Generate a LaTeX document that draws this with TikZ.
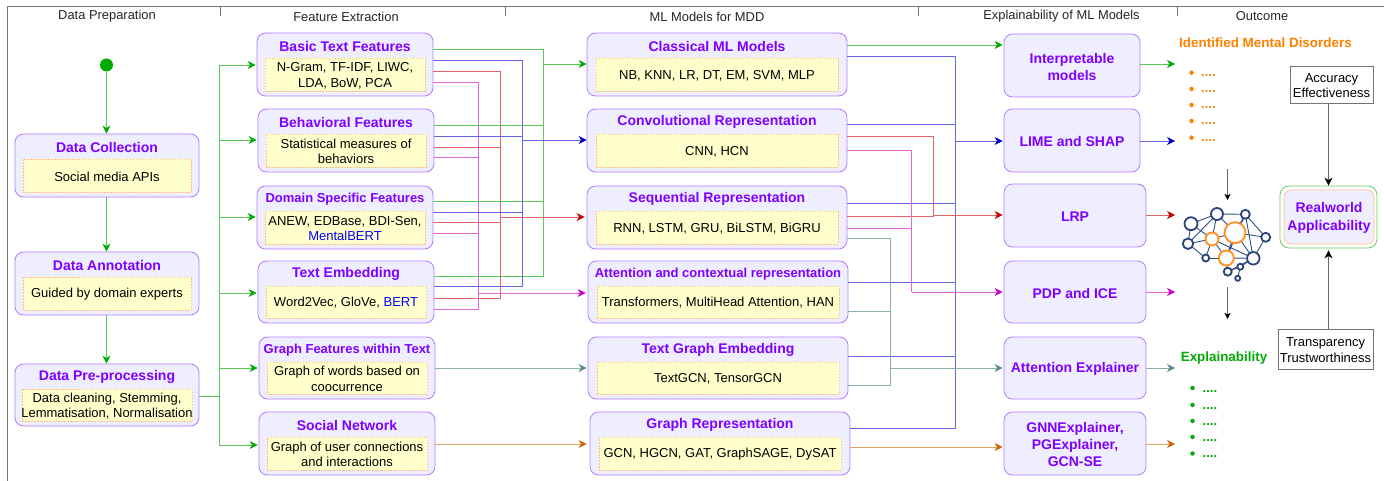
\documentclass[tikz,border=0pt]{standalone}
\usepackage{fontspec}
\setmainfont{Liberation Sans}
\usetikzlibrary{arrows.meta,calc}
\definecolor{ttl}{HTML}{7F00FF}
\definecolor{bxline}{HTML}{B57BFF}
\definecolor{bxfill}{HTML}{EEEEFF}
\definecolor{infill}{HTML}{FFFFCC}
\definecolor{inline}{HTML}{FFC080}
\definecolor{cg}{HTML}{00AA00}
\definecolor{cb}{HTML}{0000CC}
\definecolor{cr}{HTML}{CC0000}
\definecolor{cm}{HTML}{CC00CC}
\definecolor{ct}{HTML}{5B8F8A}
\definecolor{co}{HTML}{CC6600}
\definecolor{orng}{HTML}{FF8000}
\definecolor{netb}{HTML}{2A4478}
\definecolor{nete}{HTML}{2F4F80}
\definecolor{frm}{HTML}{777777}
\tikzset{
  outerbox/.style={draw=bxline,fill=bxfill,rounded corners=8.5pt,line width=0.8pt,inner sep=0pt},
  innerbox/.style={draw=inline,fill=infill,dash pattern=on 1.5pt off 1.5pt,line width=0.7pt,inner sep=0pt},
  bodynode/.style={inner sep=0pt,text=black,align=center,font=\bodyf},
  titlenode/.style={text=ttl,inner sep=0pt,align=center},
  etitle/.style={text=ttl,inner sep=0pt,align=center,font=\etitlef},
  headnode/.style={inner sep=0pt,font=\headf,text=black!85},
  conn/.style={line width=0.7pt},
  plain/.style={line width=0.7pt},
  gline/.style={draw=cg!65},
  bline/.style={draw=cb!60},
  rline/.style={draw=cr!60},
  mline/.style={draw=cm!60},
  tline/.style={draw=ct!70},
  oline/.style={draw=co!60},
  gtip/.style={conn,draw=cg!65,-{Stealth[length=8pt,width=8pt,inset=2.5pt,color=cg]}},
  btip/.style={conn,draw=cb!60,-{Stealth[length=8pt,width=8pt,inset=2.5pt,color=cb]}},
  rtip/.style={conn,draw=cr!60,-{Stealth[length=8pt,width=8pt,inset=2.5pt,color=cr]}},
  mtip/.style={conn,draw=cm!60,-{Stealth[length=8pt,width=8pt,inset=2.5pt,color=cm]}},
  ttip/.style={conn,draw=ct!70,-{Stealth[length=8pt,width=8pt,inset=2.5pt,color=ct]}},
  otip/.style={conn,draw=co!60,-{Stealth[length=8pt,width=8pt,inset=2.5pt,color=co]}},
  ktip/.style={line width=0.7pt,draw=black!60,-{Stealth[length=6pt,width=6pt,inset=1.5pt,color=black]}},
  kbig/.style={line width=0.8pt,draw=black!60,-{Stealth[length=8pt,width=8pt,inset=2.5pt,color=black]}},
  plainbox/.style={draw=black!55,fill=white,line width=0.8pt,inner sep=0pt},
  blt/.style={circle,inner sep=0pt,minimum size=4.5pt},
  netn/.style={circle,draw=netb,fill=white,line width=1.8pt,inner sep=0pt},
  neto/.style={circle,draw=orng!85,fill=white,line width=1.9pt,inner sep=0pt},
  netedge/.style={draw=nete,line width=0.9pt},
}
\newcommand{\bodyf}{\fontsize{13}{15.7}\selectfont}
\newcommand{\titlef}{\fontsize{14}{16}\selectfont\bfseries}
\newcommand{\etitlef}{\fontsize{14}{17}\selectfont\bfseries}
\newcommand{\smtitlef}{\fontsize{13}{15}\selectfont\bfseries}
\newcommand{\headf}{\fontsize{12.9}{15}\selectfont}
% name, x1,y1,x2,y2, inset, title font, title, body
\newcommand{\dbox}[9]{%
  \pgfmathsetmacro{\bw}{#4-#2}\pgfmathsetmacro{\bh}{#5-#3}%
  \pgfmathsetmacro{\bx}{(#4+#2)/2}\pgfmathsetmacro{\by}{(#5+#3)/2}%
  \pgfmathsetmacro{\iw}{#4-#2-2*#6}\pgfmathsetmacro{\ih}{#5-#3-30}%
  \pgfmathsetmacro{\iy}{(#5+#3+20)/2}\pgfmathsetmacro{\ty}{#3+13}%
  \pgfmathsetmacro{\tb}{\iy+1}%
  \node[outerbox,minimum width=\bw pt,minimum height=\bh pt] (#1) at (\bx,\by) {};
  \node[innerbox,minimum width=\iw pt,minimum height=\ih pt] (#1-i) at (\bx,\iy) {};
  \node[bodynode] (#1-b) at (\bx,\tb) {#9};
  \node[titlenode,font=#7] (#1-t) at (\bx,\ty) {#8};}
\newcommand{\ebox}[6]{%
  \pgfmathsetmacro{\bw}{#4-#2}\pgfmathsetmacro{\bh}{#5-#3}%
  \pgfmathsetmacro{\bx}{(#4+#2)/2}\pgfmathsetmacro{\by}{(#5+#3)/2}%
  \pgfmathsetmacro{\tb}{\by+1}%
  \node[outerbox,minimum width=\bw pt,minimum height=\bh pt] (#1) at (\bx,\by) {};
  \node[etitle] (#1-t) at (\bx,\tb) {#6};}
\begin{document}
\begin{tikzpicture}[x=1pt,y=-1pt]
\useasboundingbox (0,0) rectangle (1384,481);
% frame
\coordinate (fa) at (7,481); \coordinate (fb) at (7,6); \coordinate (fc) at (1384,6);
\draw[frm,line width=0.9pt] (fa) -- (fb) -- (fc);
\foreach \x/\n in {220/d1,505/d2,918/d3,1177/d4}{
  \coordinate (\n a) at (\x,6); \coordinate (\n b) at (\x,16);
  \draw[frm,line width=0.8pt] (\n a) -- (\n b);}
% headers
\node[headnode] (h1) at (107,16.5) {Data Preparation};
\node[headnode] (h2) at (346,16.5) {Feature Extraction};
\node[headnode] (h3) at (707,16.5) {ML Models for MDD};
\node[headnode] (h4) at (1061.5,16.5) {Explainability of ML Models};
\node[headnode] (h5) at (1262,16.5) {Outcome};
% data preparation
\node[circle,fill=cg,inner sep=0pt,minimum size=13pt] (start) at (106.5,65) {};
\dbox{coll}{15}{134}{199}{197}{8}{\titlef}{Data Collection}{Social media APIs}
\dbox{anno}{15}{252}{199}{315}{8}{\titlef}{Data Annotation}{Guided by domain experts}
\dbox{prep}{15}{364}{199}{426}{7}{\titlef}{Data Pre-processing}{Data cleaning, Stemming,\\Lemmatisation, Normalisation}
% features
\dbox{basic}{257}{33}{433}{96}{8}{\titlef}{Basic Text Features}{N-Gram, TF-IDF, LIWC,\\LDA, BoW, PCA}
\dbox{behav}{258}{109}{434}{172}{8}{\titlef}{Behavioral Features}{Statistical measures of\\behaviors}
\dbox{domain}{257}{186}{433}{249}{8}{\smtitlef}{Domain Specific Features}{ANEW, EDBase, BDI-Sen,\\\textcolor{blue}{MentalBERT}}
\dbox{embed}{258}{261}{434}{323}{8}{\titlef}{Text Embedding}{Word2Vec, GloVe, \textcolor{blue}{BERT}}
\dbox{gfeat}{259}{337}{435}{399}{8}{\smtitlef}{Graph Features within Text}{Graph of words based on\\coocurrence}
\dbox{social}{259}{412}{435}{475}{8}{\titlef}{Social Network}{Graph of user connections\\and interactions}
% models
\dbox{classic}{587}{33}{847}{96}{9}{\titlef}{Classical ML Models}{NB, KNN, LR, DT, EM, SVM, MLP}
\dbox{conv}{587}{109}{847}{172}{9}{\titlef}{Convolutional Representation}{CNN, HCN}
\dbox{seq}{587}{186}{847}{249}{9}{\titlef}{Sequential Representation}{RNN, LSTM, GRU, BiLSTM, BiGRU}
\dbox{attn}{588}{261}{848}{323}{9}{\smtitlef}{Attention and contextual representation}{Transformers, MultiHead Attention, HAN}
\dbox{tgraph}{588}{337}{848}{399}{9}{\titlef}{Text Graph Embedding}{TextGCN, TensorGCN}
\dbox{grep}{590}{412}{850}{475}{9}{\titlef}{Graph Representation}{GCN, HGCN, GAT, GraphSAGE, DySAT}
% explainers
\ebox{interp}{1004}{34}{1140}{97}{Interpretable\\models}
\ebox{lime}{1004}{109}{1140}{172}{LIME and SHAP}
\ebox{lrp}{1004}{184}{1146}{247}{LRP}
\ebox{pdp}{1004}{261}{1146}{323}{PDP and ICE}
\ebox{attex}{1004}{337}{1146}{399}{Attention Explainer}
\ebox{gnnex}{1004}{412}{1146}{475}{GNNExplainer,\\PGExplainer,\\GCN-SE}
% left chain
\draw[gtip] (start) -- (start |- coll.north);
\draw[gtip] (start |- coll.south) -- (start |- anno.north);
\draw[gtip] (start |- anno.south) -- (start |- prep.north);
\coordinate (fbus) at (219.5,396);
\draw[plain,gline] (prep.east |- fbus) -- (fbus);
\foreach \t/\yy in {basic/65,behav/140,domain/217,embed/293,gfeat/368,social/445}{
  \draw[gtip] (fbus) -- (fbus |- 0,\yy) -- ($(\t.west |- 0,\yy)+(-1,0)$);}
% feature buses
\coordinate (gb) at (543.5,64); \coordinate (bb) at (522,140);
\coordinate (rb) at (500.5,217); \coordinate (mb) at (478.7,293);
\foreach \t/\yg/\yb/\yr/\ym in {basic/49.5/60/71.5/82,behav/125/136/147/157,domain/201/212/222/233,embed/276/286/298/309}{
  \draw[plain,gline] (\t.east |- 0,\yg) -| (gb);
  \draw[plain,bline] (\t.east |- 0,\yb) -| (bb);
  \draw[plain,rline] (\t.east |- 0,\yr) -| (rb);
  \draw[plain,mline] (\t.east |- 0,\ym) -| (mb);}
\draw[gtip] (gb) -- (classic.west |- gb);
\draw[btip] (bb) -- (conv.west |- bb);
\draw[rtip] (rb) -- ($(seq.west |- rb)+(-2,0)$);
\draw[mtip] (mb) -- ($(attn.west |- mb)+(-2,0)$);
\draw[ttip] (gfeat.east |- 0,368) -- ($(tgraph.west |- 0,368)+(-1,0)$);
\draw[otip] (social.east |- 0,444) -- ($(grep.west |- 0,444)+(-3,0)$);
% model buses
\coordinate (bc) at (955.5,141); \coordinate (rc) at (933.5,215);
\coordinate (mc) at (911.5,292); \coordinate (tc) at (890,368);
\draw[gtip] (classic.east |- 0,45) -- ($(interp.west |- 0,45)+(-1,0)$);
\foreach \t/\yy in {classic/56,conv/124,seq/203,attn/282,tgraph/356,grep/428}{
  \draw[plain,bline] (\t.east |- 0,\yy) -| (bc);}
\foreach \t/\yy in {conv/136,seq/216.5}{
  \draw[plain,rline] (\t.east |- 0,\yy) -| (rc);}
\foreach \t/\yy in {conv/150,seq/228}{
  \draw[plain,mline] (\t.east |- 0,\yy) -| (mc);}
\foreach \t/\yy in {seq/238,attn/311,tgraph/385}{
  \draw[plain,tline] (\t.east |- 0,\yy) -| (tc);}
\draw[btip] (bc) -- ($(lime.west |- bc)+(-1,0)$);
\draw[rtip] (rc) -- ($(lrp.west |- rc)+(-1,0)$);
\draw[mtip] (mc) -- ($(pdp.west |- mc)+(-1,0)$);
\draw[ttip] (tc) -- ($(attex.west |- tc)+(-1,0)$);
\draw[otip] (grep.east |- 0,447) -- ($(gnnex.west |- 0,447)+(-1,0)$);
% outcome free-end arrows
\coordinate (oa) at (1175,64); \coordinate (ob) at (1175,141); \coordinate (oc) at (1175,215);
\coordinate (od) at (1175,292); \coordinate (oe) at (1175,368); \coordinate (of) at (1175,444);
\draw[gtip] (interp.east |- oa) -- (oa);
\draw[btip] (lime.east |- ob) -- (ob);
\draw[rtip] (lrp.east |- oc) -- (oc);
\draw[mtip] (pdp.east |- od) -- (od);
\draw[ttip] (attex.east |- oe) -- (oe);
\draw[otip] (gnnex.east |- of) -- (of);
% outcome lists
\node[inner sep=0pt,text=orng,font=\fontsize{13.45}{16}\selectfont\bfseries] (ident) at (1265.5,42.5) {Identified Mental Disorders};
\node[inner sep=0pt,text=cg,font=\fontsize{13.4}{16}\selectfont\bfseries] (expl) at (1224,358.5) {Explainability};
\foreach \i/\yy in {1/72.7,2/89,3/105,4/121,5/137.6}{
  \node[blt,fill=orng] (ob\i) at (1191.5,\yy) {};
  \node[inner sep=0pt,text=orng,font=\bodyf\bfseries,anchor=base west] (od\i) at (1201,\yy+4) {....};}
\foreach \i/\yy in {1/388,2/405,3/421,4/437,5/453.5}{
  \node[blt,fill=cg] (eb\i) at (1192.5,\yy) {};
  \node[inner sep=0pt,text=cg,font=\bodyf\bfseries,anchor=base west] (ed\i) at (1202.5,\yy+4) {....};}
% network
\foreach \n/\x/\y in {a/1191/223.7,b/1217/214,c/1245.3/214.3,d/1265.7/237.3,e/1253.3/258.3,f/1188/243.7,g/1205.7/258,h/1227.7/271.7,i/1240.3/266.7,j/1237.7/278.3}{
  \coordinate (c\n) at (\x,\y);}
\coordinate (co1) at (1212,239); \coordinate (co2) at (1235,232.7); \coordinate (co3) at (1226.3,258);
\foreach \p/\q in {a/b,b/c,c/d,d/e,c/e,a/f,b/f,f/g,h/i,i/j,e/i,h/e,b/o1,a/o1,f/o1,g/o1,b/o2,c/o2,o2/e,o2/d,o1/o2,o1/o3,o3/o2,o3/e,g/o3,o3/h,o2/o3,c/o3}{
  \draw[netedge] (c\p) -- (c\q);}
\draw[netedge] (co1) -- (ce);
\foreach \n/\s in {a/13,b/12,c/9,d/9,e/12.5,f/10.5,g/7,h/8,i/6,j/5}{
  \node[netn,minimum size=\s pt] (nn\n) at (c\n) {};}
\node[neto,minimum size=13pt] (no1) at (co1) {};
\node[neto,minimum size=21pt] (no2) at (co2) {};
\node[neto,minimum size=15pt] (no3) at (co3) {};
% thin arrows round the network
\coordinate (ta) at (1227.5,169); \coordinate (tb) at (1227.5,200);
\coordinate (tc2) at (1227.5,287); \coordinate (td) at (1227.5,319);
\draw[ktip] (ta) -- (tb);
\draw[ktip] (tc2) -- (td);
% realworld
\node[draw=cg!60,fill=white,rounded corners=9pt,line width=0.8pt,minimum width=97pt,minimum height=62pt,inner sep=0pt] (rwo) at (1328.5,217) {};
\node[draw=inline,fill=bxfill,rounded corners=7pt,line width=0.7pt,minimum width=90pt,minimum height=54pt,inner sep=0pt] (rw) at (1329,217) {};
\node[inner sep=0pt,text=ttl,align=center,font=\fontsize{14}{18}\selectfont\bfseries] (rwt) at (1329,218) {Realworld\\Applicability};
\node[plainbox,minimum width=83pt,minimum height=37pt] (acc) at (1331.5,84.5) {};
\node[bodynode] (acct) at (1331.5,85.5) {Accuracy\\Effectiveness};
\node[plainbox,minimum width=95pt,minimum height=40pt] (tra) at (1325.5,349) {};
\node[bodynode] (trat) at (1325.5,350) {Transparency\\Trustworthiness};
\draw[kbig] (acc.south -| rwo) -- (rwo.north);
\draw[kbig] (tra.north -| rwo) -- ($(rwo.south)+(0,2)$);
\end{tikzpicture}
\end{document}
